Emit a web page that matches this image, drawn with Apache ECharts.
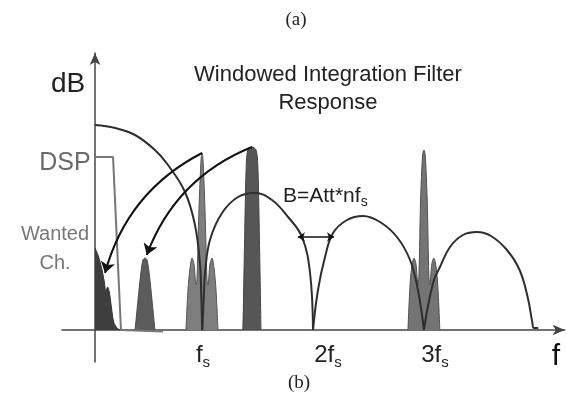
<!DOCTYPE html>
<html><head><meta charset="utf-8">
<script src="https://cdn.jsdelivr.net/npm/echarts@6/dist/echarts.min.js"></script>
<style>html,body{margin:0;padding:0;background:#fff}#c{width:567px;height:404px}</style>
</head><body><div id="c"></div>
<script>
// x in units of fs, y in relative dB (arbitrary units above the f axis)
const lobe1 = [[0,205],[0.182,202],[0.364,195],[0.545,180],[0.664,165],[0.818,138],[0.909,105],[0.955,65],[0.966,35],[0.975,0]];
const lobe2 = [[0.975,0],[0.99,35],[1.0,57],[1.045,90],[1.155,117],[1.3,133],[1.455,137],[1.609,130],[1.755,113],[1.882,93],[1.955,57],[1.982,0]];
const lobe3 = [[1.982,0],[2.027,40],[2.091,73],[2.164,97],[2.291,110],[2.436,114],[2.591,108],[2.745,93],[2.864,70],[2.936,40],[2.99,0]];
const lobe4 = [[2.99,0],[3.073,47],[3.136,63],[3.227,83],[3.345,95],[3.473,98],[3.6,94],[3.745,80],[3.86,60],[3.935,32],[3.975,8],[3.99,2],[4.03,2]];
const dspFilter = [[0,173],[0.164,173],[0.236,0],[0.618,-1.5]];
const wantedCh = [[0,82],[0.03,74],[0.06,62],[0.082,50],[0.1,39],[0.115,43],[0.13,38],[0.15,22],[0.17,8],[0.2,2],[0.227,0]];
const aliasImage = [[0.364,0],[0.391,30],[0.418,58],[0.436,70],[0.455,72],[0.473,70],[0.491,58],[0.518,30],[0.545,0]];
const fsTone = [[0.827,0],[0.845,40],[0.864,62],[0.882,72],[0.9,66],[0.918,45],[0.927,50],[0.945,120],[0.964,170],[0.973,177],[0.982,170],[1.0,120],[1.018,50],[1.027,45],[1.045,66],[1.064,72],[1.082,62],[1.1,40],[1.118,0]];
const blocker = [[1.345,0],[1.36,90],[1.375,165],[1.39,180],[1.427,183],[1.464,180],[1.48,165],[1.495,90],[1.509,0]];
const fs3Tone = [[2.845,0],[2.864,45],[2.882,65],[2.9,72],[2.918,66],[2.936,45],[2.945,55],[2.96,130],[2.978,175],[2.99,180],[3.002,175],[3.02,130],[3.035,55],[3.044,45],[3.062,66],[3.08,72],[3.098,65],[3.116,45],[3.135,0]];
const foldArrows = [[[0.973,177],[0.091,57]], [[1.427,183],[0.47,75]]];
const bandArrow = [[1.845,93],[2.173,93]];
const tickLabels = ['{m|f}{s|s}', '{m|2f}{s|s}', '{m|3f}{s|s}'];
const titleLines = ['Windowed Integration Filter', 'Response'];

const FONT = '"Liberation Sans", Arial, sans-serif';
const layout = {tickX:[203,328,435], tickY:355};

function areaSeries(name, data, fill, edge) {
  return {name, type:'line', data, showSymbol:false, smooth:0.3, z:2, silent:true,
    lineStyle:{color:edge, width:1}, areaStyle:{color:fill, opacity:1}};
}
function lobeSeries(name, data) {
  return {name, type:'line', data, showSymbol:false, smooth:0.4, z:4, silent:true,
    lineStyle:{color:'#2e2e2e', width:2}};
}
const rich = {
  m:{font:'24px ' + FONT, fill:'#222', lineHeight:30},
  s:{font:'15px ' + FONT, fill:'#222', lineHeight:14, verticalAlign:'bottom'}
};
const txt = (x, y, text, font, fill, align) => ({type:'text', x, y, silent:true,
  style:{text, font, fill, align: align || 'center', verticalAlign:'middle'}});

const chart = echarts.init(document.getElementById('c'));
chart.setOption({
  animation:false,
  grid:{left:62, right:2.3, top:53, bottom:42, containLabel:false},
  xAxis:{type:'value', min:-0.3, max:4.27, splitLine:{show:false}, axisTick:{show:false}, axisLabel:{show:false},
    axisLine:{onZero:true, symbol:['none','arrow'], symbolSize:[8,12], lineStyle:{color:'#444', width:1.5}}},
  yAxis:{type:'value', min:-32, max:277, splitLine:{show:false}, axisTick:{show:false}, axisLabel:{show:false},
    axisLine:{onZero:true, symbol:['none','arrow'], symbolSize:[8,12], lineStyle:{color:'#444', width:1.5}}},
  series:[
    areaSeries('Wanted channel', wantedCh, '#3e3e3e', '#333'),
    areaSeries('Alias image', aliasImage, '#5c5c5c', '#4a4a4a'),
    areaSeries('Tone at fs', fsTone, '#7e7e7e', '#555'),
    areaSeries('Blocker', blocker, '#565656', '#444'),
    areaSeries('Tone at 3fs', fs3Tone, '#747474', '#505050'),
    {name:'DSP', type:'line', data:dspFilter, showSymbol:false, z:3, silent:true, lineStyle:{color:'#777', width:2}},
    lobeSeries('Lobe 1', lobe1), lobeSeries('Lobe 2', lobe2), lobeSeries('Lobe 3', lobe3), lobeSeries('Lobe 4', lobe4),
    {name:'Folding', type:'lines', coordinateSystem:'cartesian2d', z:6, silent:true,
      symbol:['none','arrow'], symbolSize:11,
      lineStyle:{color:'#111', width:2, curveness:-0.22, opacity:1},
      data: foldArrows.map(c => ({coords:c}))},
    {name:'Bandwidth', type:'lines', coordinateSystem:'cartesian2d', z:6, silent:true,
      symbol:['arrow','arrow'], symbolSize:7,
      lineStyle:{color:'#111', width:1.5, curveness:0, opacity:1},
      data:[{coords:bandArrow}]}
  ],
  graphic:[
    txt(296, 20, '(a)', '19px "Liberation Serif", serif', '#222'),
    txt(299, 383, '(b)', '19px "Liberation Serif", serif', '#222'),
    txt(328, 75, titleLines[0], '22px ' + FONT, '#222'),
    txt(328, 103, titleLines[1], '22px ' + FONT, '#222'),
    txt(68, 84, 'dB', '28px ' + FONT, '#222'),
    txt(65, 163, 'DSP', '25px ' + FONT, '#6a6a6a'),
    txt(55, 234, 'Wanted', '20px ' + FONT, '#777'),
    txt(55, 263, 'Ch.', '20px ' + FONT, '#777'),
    {type:'text', x:283, y:196, silent:true, style:{text:'{m|B=Att*nf}{s|s}', align:'left', verticalAlign:'middle',
      rich:{m:{font:'21px ' + FONT, fill:'#222', lineHeight:26}, s:{font:'14px ' + FONT, fill:'#222', lineHeight:13, verticalAlign:'bottom'}}}},
    ...tickLabels.map((t, i) => ({type:'text', x:layout.tickX[i], y:layout.tickY, silent:true,
      style:{text:t, align:'center', verticalAlign:'middle', rich}})),
    txt(556, 357, 'f', '30px ' + FONT, '#111')
  ]
});
</script></body></html>
